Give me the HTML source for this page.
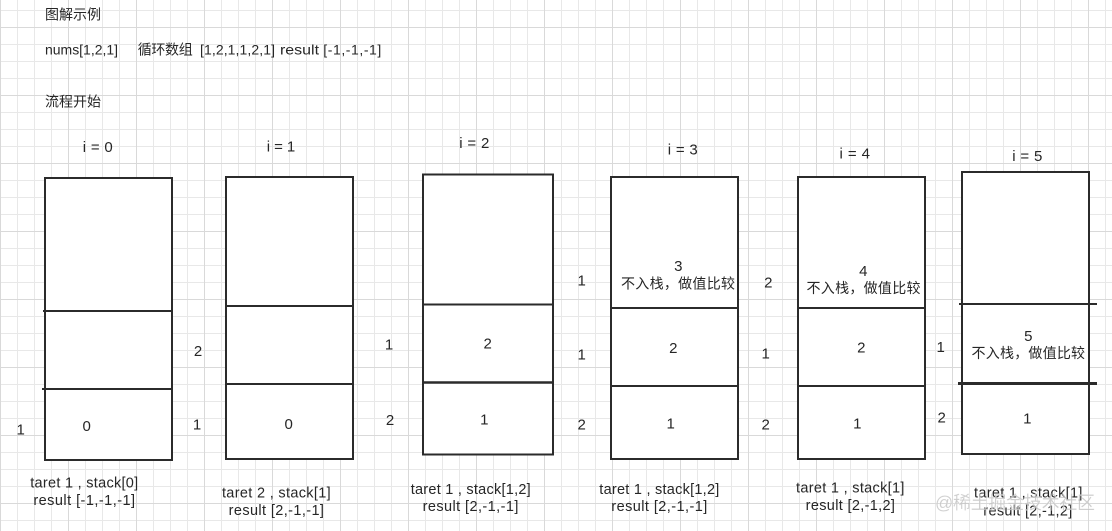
<!DOCTYPE html>
<html>
<head>
<meta charset="utf-8">
<style>
  html, body { margin: 0; padding: 0; background: #fff; }
  svg { display: block; }
  text { font-family: "Liberation Sans", "Noto Sans CJK SC", sans-serif; fill: #262626; }
</style>
</head>
<body>
<svg width="1112" height="531" viewBox="0 0 1112 531" xmlns="http://www.w3.org/2000/svg">
  <defs>
    <pattern id="grid" x="0" y="27" width="68" height="68" patternUnits="userSpaceOnUse">
      <line x1="17.5" y1="0" x2="17.5" y2="68" stroke="#e8e8e8" stroke-width="1"/>
      <line x1="34.5" y1="0" x2="34.5" y2="68" stroke="#e8e8e8" stroke-width="1"/>
      <line x1="51.5" y1="0" x2="51.5" y2="68" stroke="#e8e8e8" stroke-width="1"/>
      <line x1="0" y1="17.5" x2="68" y2="17.5" stroke="#e8e8e8" stroke-width="1"/>
      <line x1="0" y1="34.5" x2="68" y2="34.5" stroke="#e8e8e8" stroke-width="1"/>
      <line x1="0" y1="51.5" x2="68" y2="51.5" stroke="#e8e8e8" stroke-width="1"/>
      <line x1="0.5" y1="0" x2="0.5" y2="68" stroke="#d9d9d9" stroke-width="1"/>
      <line x1="0" y1="0.5" x2="68" y2="0.5" stroke="#d9d9d9" stroke-width="1"/>
    </pattern>
  </defs>
  <rect x="0" y="0" width="1112" height="531" fill="#fff"/>
  <rect x="0" y="0" width="1112" height="531" fill="url(#grid)"/>

  <!-- header texts -->
  <text x="45" y="19.3" font-size="14" textLength="56" lengthAdjust="spacing">图解示例</text>
  <text x="45" y="54.3" font-size="14" textLength="73" lengthAdjust="spacing">nums[1,2,1]</text>
  <text x="137.7" y="54.3" font-size="14" textLength="55" lengthAdjust="spacing">循环数组</text>
  <text x="200" y="54.3" font-size="14" textLength="75" lengthAdjust="spacing">[1,2,1,1,2,1]</text>
  <text x="280" y="54.3" font-size="14" textLength="39" lengthAdjust="spacingAndGlyphs">result</text>
  <text x="323.3" y="54.3" font-size="14" textLength="58" lengthAdjust="spacing">[-1,-1,-1]</text>
  <text x="45" y="106.3" font-size="14" textLength="56" lengthAdjust="spacing">流程开始</text>

  <!-- i labels -->
  <g font-size="15" text-anchor="middle">
    <text x="97.7" y="152.1" textLength="30" lengthAdjust="spacing">i = 0</text>
    <text x="281" y="151.4" textLength="28.5" lengthAdjust="spacing">i = 1</text>
    <text x="474.3" y="148.1" textLength="30" lengthAdjust="spacing">i = 2</text>
    <text x="682.7" y="154.7" textLength="30" lengthAdjust="spacing">i = 3</text>
    <text x="854.7" y="158.7" textLength="30.5" lengthAdjust="spacing">i = 4</text>
    <text x="1027.3" y="161.1" textLength="30" lengthAdjust="spacing">i = 5</text>
  </g>

  <!-- boxes -->
  <g fill="#fff" stroke="#2b2b2b" stroke-width="2">
    <rect x="45" y="178" width="127" height="282"/>
    <rect x="226" y="177" width="127" height="282"/>
    <rect x="423" y="174.5" width="130" height="280"/>
    <rect x="611" y="177" width="127" height="282"/>
    <rect x="798" y="177" width="127" height="282"/>
    <rect x="962" y="172" width="127" height="282"/>
  </g>
  <g stroke="#2b2b2b" stroke-width="2">
    <line x1="43" y1="311" x2="171" y2="311"/>
    <line x1="42" y1="389" x2="171" y2="389"/>
    <line x1="226" y1="306" x2="354" y2="306"/>
    <line x1="226" y1="384" x2="354" y2="384"/>
    <line x1="423" y1="304.5" x2="553" y2="304.5"/>
    <line x1="423" y1="382.5" x2="553" y2="382.5" stroke-width="2.6"/>
    <line x1="611" y1="308" x2="738" y2="308"/>
    <line x1="611" y1="386" x2="738" y2="386"/>
    <line x1="798" y1="308" x2="925" y2="308"/>
    <line x1="798" y1="386" x2="925" y2="386"/>
    <line x1="959" y1="304" x2="1097" y2="304"/>
    <line x1="958" y1="383.5" x2="1097" y2="383.5" stroke-width="3"/>
  </g>

  <!-- inner digits -->
  <g font-size="15" text-anchor="middle">
    <text x="86.7" y="431.1">0</text>
    <text x="288.7" y="429.1">0</text>
    <text x="487.7" y="348.7">2</text>
    <text x="484.3" y="424.7">1</text>
    <text x="678.3" y="271.1">3</text>
    <text x="673.3" y="353.1">2</text>
    <text x="670.7" y="428.7">1</text>
    <text x="863.3" y="276.1">4</text>
    <text x="861.3" y="352.7">2</text>
    <text x="857.3" y="428.7">1</text>
    <text x="1028.3" y="341.1">5</text>
    <text x="1027.3" y="423.7">1</text>
  </g>
  <g font-size="14" text-anchor="middle">
    <text x="678" y="288.6" textLength="114" lengthAdjust="spacing">不入栈，做值比较</text>
    <text x="863.5" y="293" textLength="114" lengthAdjust="spacing">不入栈，做值比较</text>
    <text x="1028.3" y="358" textLength="113.5" lengthAdjust="spacing">不入栈，做值比较</text>
  </g>

  <!-- side numbers -->
  <g font-size="15" text-anchor="middle">
    <text x="20.7" y="434.4">1</text>
    <text x="198" y="356.1">2</text>
    <text x="197" y="429.4">1</text>
    <text x="389" y="349.7">1</text>
    <text x="390" y="425">2</text>
    <text x="581.7" y="285.4">1</text>
    <text x="581.7" y="359.7">1</text>
    <text x="581.7" y="429.4">2</text>
    <text x="768.3" y="287.7">2</text>
    <text x="765.7" y="358.7">1</text>
    <text x="765.7" y="429.4">2</text>
    <text x="940.7" y="352.1">1</text>
    <text x="941.7" y="422.7">2</text>
  </g>

  <!-- bottom labels -->
  <g font-size="14.5" text-anchor="middle">
    <text x="84.2" y="487.7" textLength="108" lengthAdjust="spacing">taret 1 , stack[0]</text>
    <text x="84.2" y="505" textLength="101.7" lengthAdjust="spacing">result [-1,-1,-1]</text>
    <text x="276.3" y="497.7" textLength="108.7" lengthAdjust="spacing">taret 2 , stack[1]</text>
    <text x="276.3" y="515" textLength="95.3" lengthAdjust="spacing">result [2,-1,-1]</text>
    <text x="470.7" y="494" textLength="120" lengthAdjust="spacing">taret 1 , stack[1,2]</text>
    <text x="470.5" y="511" textLength="95.7" lengthAdjust="spacing">result [2,-1,-1]</text>
    <text x="659.3" y="494" textLength="120" lengthAdjust="spacing">taret 1 , stack[1,2]</text>
    <text x="659.3" y="511" textLength="96" lengthAdjust="spacing">result [2,-1,-1]</text>
    <text x="850.2" y="492.7" textLength="108.3" lengthAdjust="spacing">taret 1 , stack[1]</text>
    <text x="850.3" y="510" textLength="89.3" lengthAdjust="spacing">result [2,-1,2]</text>
    <text x="1028.2" y="497.7" textLength="108.3" lengthAdjust="spacing">taret 1 , stack[1]</text>
    <text x="1027.8" y="515.5" textLength="89" lengthAdjust="spacing">result [2,-1,2]</text>
  </g>

  <!-- watermark -->
  <text x="935" y="509" font-size="18" textLength="160" lengthAdjust="spacing" style="fill:#bdbdbd; fill-opacity:0.8; stroke:#fff; stroke-opacity:0.35; stroke-width:0.6">@稀土掘金技术社区</text>
</svg>
</body>
</html>
